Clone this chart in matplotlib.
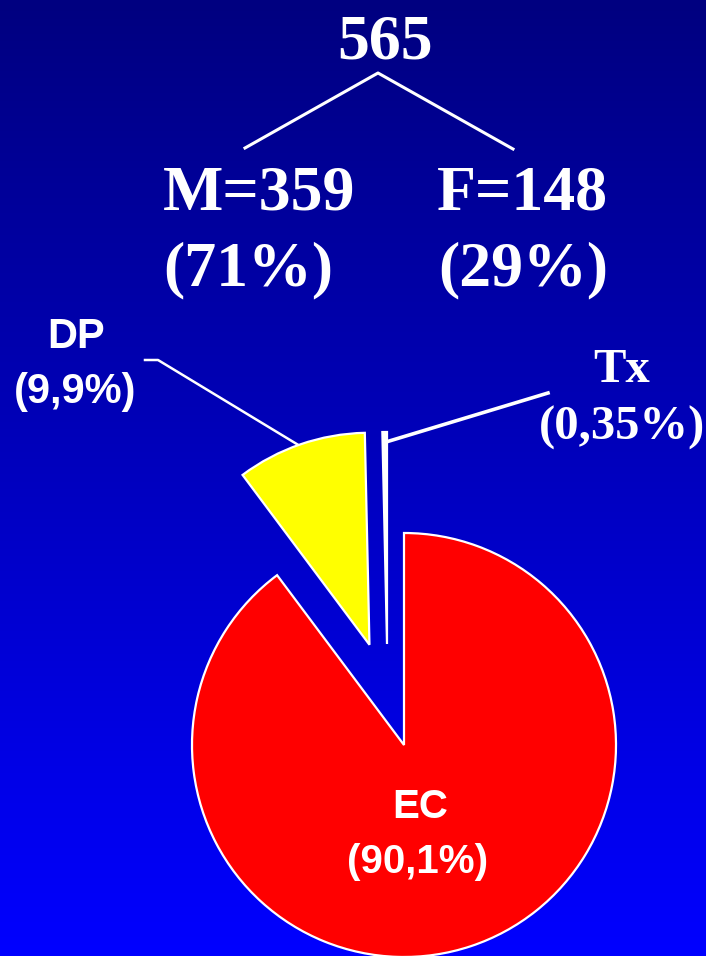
import matplotlib
matplotlib.use('Agg')
import matplotlib.pyplot as plt
import numpy as np
from matplotlib.colors import LinearSegmentedColormap

# DATA
total = 565
sex_labels = ['M', 'F']
sex_counts = [359, 148]
sex_pct = [71, 29]

slice_labels = ['Tx', 'DP', 'EC']
slice_values = [0.35, 9.9, 90.1]
slice_text = ['0,35%', '9,9%', '90,1%']
slice_colors = ['white', '#FFFF00', '#FF0000']

W, H = 706, 956

# FIGURE / BACKGROUND
fig = plt.figure(figsize=(W / 100, H / 100), dpi=100)
ax = fig.add_axes([0, 0, 1, 1])

cmap = LinearSegmentedColormap.from_list('bg', ['#0000FF', '#000080'])
grad = np.linspace(0, 1, 256).reshape(-1, 1)
ax.imshow(grad, cmap=cmap, extent=[0, W, 0, H], origin='lower', aspect='auto', zorder=0)

# PIE (explode is in data units here, so scale by radius)
cx, cy, r = 404, 211, 212
wedges, _ = ax.pie(slice_values, colors=slice_colors, startangle=90, counterclock=True,
                   explode=[0, 0.5 * r, 0], center=(cx, cy), radius=r,
                   wedgeprops=dict(edgecolor='white', linewidth=1.6))
for w in wedges:
    w.set_zorder(3)
wedges[0].set_center((cx - 17, cy + 101))  # Tx slice pulled out slightly to the left
ax.set_xlim(0, W)
ax.set_ylim(0, H)
ax.set_aspect('equal')
ax.axis('off')

serif = 'Liberation Serif'
sans = 'Liberation Sans'

# TOP TREE
ax.text(385, H - 58, str(total), fontsize=46, fontweight='bold', family=serif, color='white', ha='center', va='baseline')
ax.plot([245, 378, 513], [H - 148, H - 73, H - 149], color='white', lw=2.2, zorder=4)
ax.text(259, H - 209, f"{sex_labels[0]}={sex_counts[0]}", fontsize=46, fontweight='bold', family=serif, color='white', ha='center', va='baseline')
ax.text(248, H - 285, f"({sex_pct[0]}%)", fontsize=46, fontweight='bold', family=serif, color='white', ha='center', va='baseline')
ax.text(522, H - 209, f"{sex_labels[1]}={sex_counts[1]}", fontsize=46, fontweight='bold', family=serif, color='white', ha='center', va='baseline')
ax.text(523, H - 285, f"({sex_pct[1]}%)", fontsize=46, fontweight='bold', family=serif, color='white', ha='center', va='baseline')

# SLICE LABELS
ax.text(76, H - 348, slice_labels[1], fontsize=30, fontweight='bold', family=sans, color='white', ha='center', va='baseline')
ax.text(75, H - 403, f"({slice_text[1]})", fontsize=30, fontweight='bold', family=sans, color='white', ha='center', va='baseline')
ax.plot([145, 158, 300], [H - 360, H - 360, H - 446], color='white', lw=1.8, zorder=2)

ax.text(622, H - 382, slice_labels[0], fontsize=35, fontweight='bold', family=serif, color='white', ha='center', va='baseline')
ax.text(622, H - 440, f"({slice_text[0]})", fontsize=35, fontweight='bold', family=serif, color='white', ha='center', va='baseline')
ax.plot([386, 548], [H - 442, H - 393], color='white', lw=2.6, zorder=4)

ax.text(420, H - 818, slice_labels[2], fontsize=29, fontweight='bold', family=sans, color='white', ha='center', va='baseline', zorder=5)
ax.text(418, H - 873, f"({slice_text[2]})", fontsize=29, fontweight='bold', family=sans, color='white', ha='center', va='baseline', zorder=5)

fig.savefig('out.png', dpi=100)
